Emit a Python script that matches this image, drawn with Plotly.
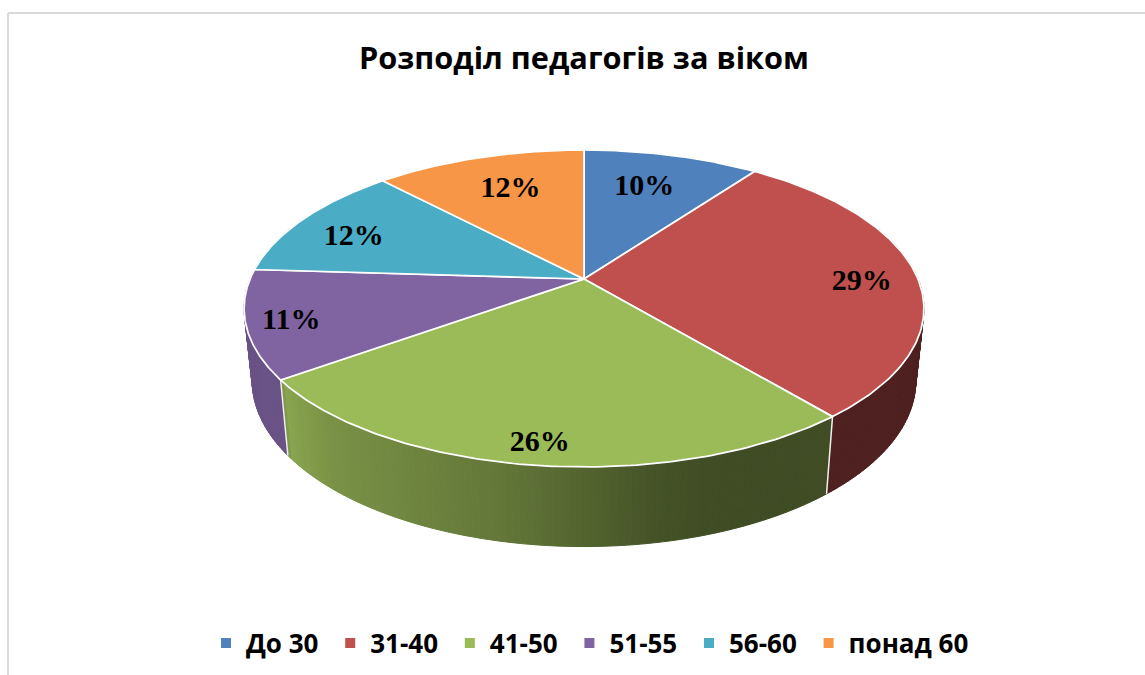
import numpy as np
import plotly.graph_objects as go

categories = ["До 30", "31-40", "41-50", "51-55", "56-60", "понад 60"]
values = [10, 29, 26, 11, 12, 12]
colors = ["#4f81bd", "#c0504d", "#9bbb59", "#8064a2", "#4bacc6", "#f79646"]
title_text = "Розподіл педагогів за віком"

W, H = 1145, 675
# Perspective projection of the pie disc (axes are in pixel units)
CX, K = 584, 0.186
TOP = dict(y0=279, a=334, b=153)
BOT = dict(y0=350, a=326, b=160)
# Wall shading as a function of horizontal position
SHADE_X = [245, 287, 288, 330, 450, 500, 580, 660, 720, 1000]
SHADE_M = [0.82, 0.82, 0.88, 0.78, 0.68, 0.64, 0.54, 0.44, 0.41, 0.40]
# Label placement relative to the slice's mid-radius point
LABEL_R = 0.8
LABEL_D = [(-12, 10), (12, 7), (-5, 22), (-25, 7), (-3, 8), (13, 10)]


def proj(theta_deg, r, p):
    t = np.radians(theta_deg)
    u, v = r * np.sin(t), r * np.cos(t)
    d = 1 + K * v
    return CX + p["a"] * u / d, p["y0"] - p["b"] * v / d


def shade(hex_color, m):
    rgb = [int(hex_color[i:i + 2], 16) for i in (1, 3, 5)]
    return "rgb(%d,%d,%d)" % tuple(round(c * m) for c in rgb)


total = sum(values)
edges = np.cumsum([0] + values) / total * 360
fig = go.Figure()

# side walls, only the part turned toward the viewer
STEP = 1.0
for i, col in enumerate(colors):
    a0, a1 = edges[i], edges[i + 1]
    start, end = max(a0, 70), min(a1, 290)
    if end <= start:
        continue
    n = max(int(np.ceil((end - start) / STEP)), 1)
    grid = np.linspace(start, end, n + 1)
    for g0, g1 in zip(grid[:-1], grid[1:]):
        arc = np.linspace(g0, g1, 3)
        xt, yt = proj(arc, 1, TOP)
        xb, yb = proj(arc, 1, BOT)
        xs = np.concatenate([xt, xb[::-1], xt[:1]])
        ys = np.concatenate([yt, yb[::-1], yt[:1]])
        m = float(np.interp(xs.mean(), SHADE_X, SHADE_M))
        c = shade(col, m)
        fig.add_trace(go.Scatter(x=xs, y=ys, mode="lines", fill="toself",
                                 fillcolor=c, line=dict(width=1, color=c),
                                 showlegend=False, hoverinfo="skip"))

# seams between walls
for e in edges[:-1]:
    xt, yt = proj(e, 1, TOP)
    xb, yb = proj(e, 1, BOT)
    if 90 < e < 290:
        fig.add_trace(go.Scatter(x=[xt, xb], y=[yt, yb], mode="lines",
                                 line=dict(color="#eeeeee", width=1.5),
                                 showlegend=False, hoverinfo="skip"))

# top face
for i, col in enumerate(colors):
    arc = np.linspace(edges[i], edges[i + 1], 120)
    xa, ya = proj(arc, 1, TOP)
    xc, yc = proj(0, 0, TOP)
    fig.add_trace(go.Scatter(x=np.r_[xc, xa, xc], y=np.r_[yc, ya, yc], mode="lines",
                             fill="toself", fillcolor=col,
                             line=dict(color="#ffffff", width=1.75),
                             showlegend=False, hoverinfo="skip"))

# percentage labels
mid = (edges[:-1] + edges[1:]) / 2
lx, ly = proj(mid, LABEL_R, TOP)
fig.add_trace(go.Scatter(
    x=lx + np.array([d[0] for d in LABEL_D]),
    y=ly + np.array([d[1] for d in LABEL_D]),
    mode="text", text=[f"{v}%" for v in values], textposition="middle center",
    textfont=dict(family="Liberation Serif", size=30, color="#000000", weight="bold"),
    showlegend=False, hoverinfo="skip"))

# legend entries (a trailing no-break space widens the gap between entries)
for name, col in zip(categories, colors):
    fig.add_trace(go.Scatter(x=[None], y=[None], mode="markers", name=name + "\u00a0",
                             marker=dict(symbol="square", size=10, color=col)))

fig.update_layout(
    width=W, height=H, autosize=False,
    margin=dict(l=0, r=0, t=0, b=0),
    paper_bgcolor="#ffffff", plot_bgcolor="#ffffff",
    title=dict(text=title_text, x=584 / W, xanchor="center", y=1 - 58 / H, yanchor="middle",
               font=dict(family="Open Sans", size=30.7, color="#000000", weight="bold")),
    xaxis=dict(range=[0, W], visible=False, fixedrange=True),
    yaxis=dict(range=[H, 0], visible=False, fixedrange=True),
    legend=dict(orientation="h", x=206 / W, xanchor="left", y=1 - 643 / H, yanchor="middle",
                traceorder="normal",
                font=dict(family="Open Sans", size=26, color="#000000", weight="bold"),
                bgcolor="rgba(0,0,0,0)"),
    shapes=[
        dict(type="line", xref="paper", yref="paper", x0=8 / W, x1=8 / W, y0=0, y1=1 - 13 / H,
             line=dict(color="#d9d9d9", width=2)),
        dict(type="line", xref="paper", yref="paper", x0=8 / W, x1=1, y0=1 - 13 / H, y1=1 - 13 / H,
             line=dict(color="#d9d9d9", width=2)),
    ],
)

fig.write_html("out.html", config=dict(displayModeBar=False),
               post_script="document.body.style.margin='0';document.documentElement.style.overflow='hidden';")
